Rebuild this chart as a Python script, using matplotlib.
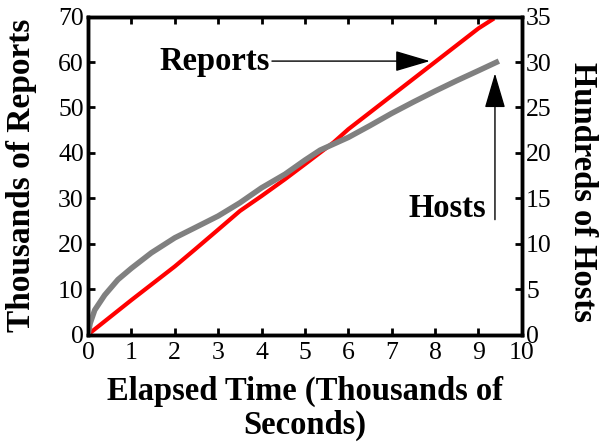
import matplotlib
matplotlib.use("Agg")
import matplotlib.pyplot as plt

plt.rcParams['font.family'] = ['Liberation Serif', 'DejaVu Serif']

# Reports (thousands) vs elapsed time (thousands of seconds)
rep_t = [0, 0.5, 1, 2, 2.46, 3, 3.5, 4, 4.54, 5, 5.66, 6, 6.5, 7, 7.5, 8, 8.5, 9, 9.36]
reports = [0, 3.8, 7.6, 15.0, 18.7, 23.1, 27.2, 30.5, 34.2, 37.5, 42.3, 45.2, 48.9, 52.6, 56.3, 60.0, 63.7, 67.4, 69.6]

# Hosts (hundreds)
host_t = [0, 0.05, 0.155, 0.385, 0.69, 1, 1.46, 2, 2.46, 3, 3.5, 4, 4.54, 5, 5.35, 6, 6.5, 7, 7.5, 8, 8.5, 9, 9.47]
hosts = [0, 1.25, 2.7, 4.35, 6.05, 7.3, 9.0, 10.65, 11.75, 13.05, 14.5, 16.15, 17.65, 19.2, 20.3,
         21.7, 23.0, 24.35, 25.6, 26.8, 27.95, 29.05, 30.1]

fig = plt.figure(figsize=(6.04, 4.42), dpi=100)
ax = fig.add_axes([0.1457, 0.243, 0.7183, 0.7195])
ax2 = ax.twinx()

ax.plot(rep_t, reports, color='#ff0000', lw=3, solid_capstyle='butt', solid_joinstyle='round')
ax2.plot(host_t, hosts, color='#808080', lw=4, solid_capstyle='butt', solid_joinstyle='round')

ax.set_xlim(0, 10)
ax.set_ylim(0, 70)
ax2.set_ylim(0, 35)
ax.set_xticks(range(0, 11))
ax.set_yticks(range(0, 71, 10))
ax2.set_yticks(range(0, 36, 5))

for a in (ax, ax2):
    for s in a.spines.values():
        s.set_linewidth(2.5)
ax.tick_params(direction='in', length=5, width=2, labelsize=18.5, top=True, pad=3)
ax.tick_params(axis='x', pad=5)
ax2.tick_params(direction='in', length=5, width=2, labelsize=18.5, pad=3)

ax.set_ylabel('Thousands of Reports', fontsize=24, fontweight='bold')
ax.yaxis.set_label_coords(-0.1175, 0.5)
ax2.set_ylabel('Hundreds of Hosts', fontsize=23.5, fontweight='bold', rotation=-90, va='center')
ax2.yaxis.set_label_coords(1.14, 0.45)
ax.set_xlabel('Elapsed Time (Thousands of\nSeconds)', fontsize=23.5, fontweight='bold',
              linespacing=1.1, labelpad=9)

arrow = dict(arrowstyle='-|>,head_length=2.2,head_width=0.65', color='black', lw=1,
             shrinkA=0, shrinkB=0)
ax.annotate('', xy=(7.88, 60.2), xytext=(4.24, 60.2), arrowprops=arrow)
ax.text(4.18, 60.2, 'Reports', fontsize=23.5, fontweight='bold', ha='right', va='center')
ax.annotate('', xy=(9.38, 57.5), xytext=(9.38, 25.3), arrowprops=arrow)
ax.text(9.17, 27.7, 'Hosts', fontsize=23.5, fontweight='bold', ha='right', va='center')

fig.savefig('out.png', dpi=100)
